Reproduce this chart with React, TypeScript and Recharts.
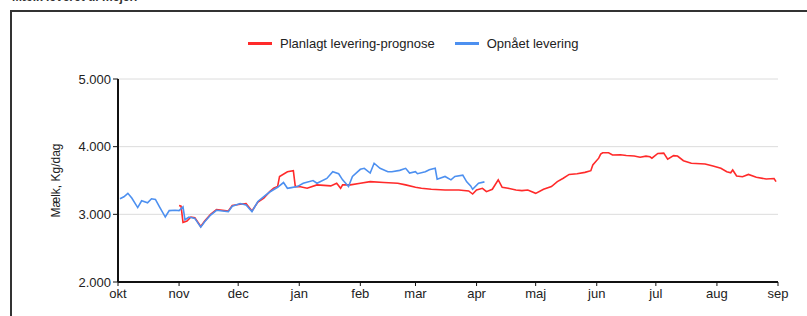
import { CartesianGrid, Line, LineChart, XAxis, YAxis } from "recharts";

// Day index counted from 1 okt; month starts are the x ticks.
const monthTicks = [0, 31, 61, 92, 123, 151, 182, 212, 243, 273, 304, 335];
const monthLabels = ["okt", "nov", "dec", "jan", "feb", "mar", "apr", "maj", "jun", "jul", "aug", "sep"];
const yTicks = [2000, 3000, 4000, 5000];

// Opnået levering (blue)
const achievedDays = [
  1, 3, 5, 7, 10, 12, 15, 17, 19, 21, 24, 26, 29, 31, 33, 34, 36, 39, 42, 44, 47, 50, 53, 56, 58,
  62, 65, 68, 71, 74, 77, 81, 84, 86, 88, 91, 94, 99, 101, 106, 109, 112, 114, 117, 119, 123,
  125, 128, 130, 133, 137, 139, 143, 146, 148, 151, 152, 156, 158, 161, 162, 166, 169, 171, 175,
  177, 179, 180, 183, 186,
];
const achievedKg = [
  3230, 3260, 3310, 3240, 3100, 3200, 3170, 3230, 3220, 3115, 2960, 3055, 3060, 3055, 3110, 2920,
  2960, 2940, 2810, 2890, 2990, 3060, 3050, 3040, 3120, 3160, 3140, 3040, 3190, 3260, 3330, 3400,
  3470, 3385, 3395, 3410, 3460, 3500, 3460, 3530, 3630, 3600, 3510, 3410, 3560, 3665, 3680, 3610,
  3755, 3680, 3630, 3630, 3650, 3680, 3610, 3630, 3600, 3630, 3660, 3680, 3520, 3560, 3510, 3560,
  3580, 3480, 3420, 3370, 3460, 3480,
];

// Planlagt levering-prognose (red)
const plannedDays = [
  31, 32, 33, 35, 37, 39, 42, 44, 47, 50, 53, 56, 58, 62, 65, 68, 71, 74, 77, 79, 81, 82, 86, 89,
  90, 92, 96, 101, 108, 111, 113, 114, 118, 123, 128, 135, 142, 146, 151, 154, 159, 166, 173, 178,
  180, 182, 185, 187, 190, 193, 195, 198, 202, 205, 208, 212, 216, 220, 223, 226, 229, 233, 237,
  240, 241, 244, 245, 246, 249, 251, 255, 258, 262, 265, 268, 270, 271, 274, 277, 279, 282, 284,
  287, 291, 298, 302, 306, 309, 311, 312, 314, 317, 320, 324, 329, 333, 334,
];
const plannedKg = [
  3130, 3120, 2880, 2900, 2960, 2950, 2820, 2900, 3000, 3070, 3060, 3050, 3130, 3150, 3160, 3050,
  3180, 3240, 3335, 3385, 3410, 3560, 3630, 3645, 3410, 3410, 3385, 3435, 3420, 3460, 3385, 3435,
  3435, 3460, 3483, 3470, 3460, 3435, 3400, 3385, 3370, 3360, 3360, 3345, 3300, 3360, 3385, 3335,
  3370, 3510, 3400, 3385, 3360, 3350, 3360, 3310, 3370, 3410, 3483, 3533, 3590, 3600, 3620, 3645,
  3730, 3830, 3890, 3910, 3910, 3877, 3880, 3870, 3862, 3843, 3860, 3850, 3830, 3900, 3905, 3815,
  3867, 3862, 3793, 3755, 3745, 3715, 3680, 3630, 3615, 3655, 3567, 3555, 3590, 3548, 3523, 3530,
  3483,
];

const achievedData = achievedDays.map((day, i) => ({ day, kg: achievedKg[i] }));
const plannedData = plannedDays.map((day, i) => ({ day, kg: plannedKg[i] }));

const RED = "#ff2a2a";
const BLUE = "#4d90f0";
const font = "'Liberation Sans', Arial, sans-serif";

function LegendItem({ color, text, gap }: { color: string; text: string; gap: number }) {
  return (
    <span style={{ display: "inline-flex", alignItems: "center", marginRight: gap }}>
      <span style={{ width: 24, height: 3, background: color, marginRight: 8 }} />
      <span>{text}</span>
    </span>
  );
}

export default function App() {
  return (
    <div
      style={{
        position: "absolute",
        left: 0,
        top: 0,
        width: 807,
        height: 316,
        overflow: "hidden",
        background: "#fff",
        fontFamily: font,
      }}
    >
      <div
        style={{ position: "absolute", left: 12, top: -10, fontSize: 12, fontWeight: "bold", color: "#333" }}
      >
        Mælk leveret til mejeri
      </div>
      <div
        style={{
          position: "absolute",
          left: 10,
          top: 10,
          width: 800,
          height: 320,
          border: "2px solid #333",
          boxSizing: "border-box",
        }}
      />
      <div
        style={{
          position: "absolute",
          left: 248,
          top: 36,
          fontSize: 13,
          color: "#222",
          display: "flex",
          whiteSpace: "nowrap",
        }}
      >
        <LegendItem color={RED} text="Planlagt levering-prognose" gap={20} />
        <LegendItem color={BLUE} text="Opnået levering" gap={0} />
      </div>
      <div style={{ position: "absolute", left: 0, top: 0 }}>
        <LineChart width={807} height={316} margin={{ top: 79, right: 29, bottom: 4, left: 44 }}>
          <CartesianGrid horizontal vertical={false} stroke="#dcdcdc" />
          <XAxis
            dataKey="day"
            type="number"
            domain={[0, 335]}
            ticks={monthTicks}
            tickFormatter={(v: number) => monthLabels[monthTicks.indexOf(v)] ?? ""}
            interval={0}
            height={30}
            tickSize={4}
            tickMargin={3}
            axisLine={{ stroke: "#111", strokeWidth: 2 }}
            tickLine={{ stroke: "#111" }}
            tick={{ fontSize: 13, fill: "#222", fontFamily: font }}
            allowDuplicatedCategory={false}
          />
          <YAxis
            type="number"
            domain={[2000, 5000]}
            ticks={yTicks}
            width={74}
            tickSize={5}
            tickMargin={2}
            tickFormatter={(v: number) => `${v / 1000}.000`}
            axisLine={{ stroke: "#111", strokeWidth: 2 }}
            tickLine={{ stroke: "#111" }}
            tick={{ fontSize: 13, fill: "#222", fontFamily: font }}
            label={{
              value: "Mælk, Kg/dag",
              angle: -90,
              position: "insideLeft",
              offset: 12,
              style: { textAnchor: "middle", fontSize: 12, fill: "#222", fontFamily: font },
            }}
          />
          <Line
            data={plannedData}
            dataKey="kg"
            type="linear"
            stroke={RED}
            strokeWidth={1.6}
            dot={false}
            isAnimationActive={false}
          />
          <Line
            data={achievedData}
            dataKey="kg"
            type="linear"
            stroke={BLUE}
            strokeWidth={1.6}
            dot={false}
            isAnimationActive={false}
          />
        </LineChart>
      </div>
    </div>
  );
}
